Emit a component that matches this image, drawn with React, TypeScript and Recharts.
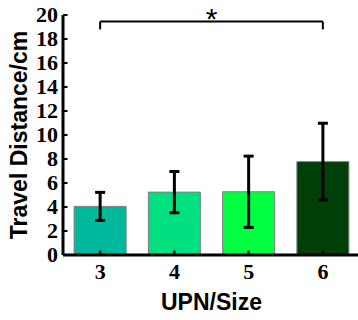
import React from 'react';
import { BarChart, Bar, Cell, XAxis, YAxis, ErrorBar, ReferenceLine } from 'recharts';

// Travel distance per UPN size: mean with error (±)
const sizes = ['3', '4', '5', '6'];
const means = [4.05, 5.24, 5.27, 7.78];
const errs = [1.17, 1.72, 2.97, 3.2];
const barColors = ['#00B89C', '#00E080', '#00FF40', '#004008'];
const yTicks = [0, 2, 4, 6, 8, 10, 12, 14, 16, 18, 20];

// Significance bracket between size 3 and size 6
const bracketFrom = '3';
const bracketTo = '6';
const bracketLevel = 19.45;
const bracketDrop = 18.8;
const bracketMark = '*';

const rows = sizes.map((size, i) => ({ size, mean: means[i], err: errs[i] }));

const SERIF = '"Liberation Serif", "Times New Roman", serif';
const SANS = '"Liberation Sans", Arial, sans-serif';

const YTick = (props: any) => {
  const { x, y, payload } = props;
  return (
    <g>
      <line x1={x} x2={x + 4.5} y1={y} y2={y} stroke="#000" strokeWidth={2} />
      <text x={x - 5} y={y} dy="0.34em" textAnchor="end" fontFamily={SERIF} fontWeight="bold" fontSize={22} fill="#000">
        {payload.value}
      </text>
    </g>
  );
};

const XTick = (props: any) => {
  const { x, y, payload } = props;
  return (
    <g>
      <line x1={x} x2={x} y1={y - 4.5} y2={y} stroke="#000" strokeWidth={2.5} />
      <text x={x} y={y + 24} textAnchor="middle" fontFamily={SERIF} fontWeight="bold" fontSize={22} fill="#000">
        {payload.value}
      </text>
    </g>
  );
};

const YTitle = () => (
  <text
    x={27}
    y={135}
    transform="rotate(-90 27 135)"
    textAnchor="middle"
    fontFamily={SANS}
    fontWeight="bold"
    fontSize={23}
    fill="#000"
  >
    Travel Distance/cm
  </text>
);

const XTitle = () => (
  <text x={211.5} y={310} textAnchor="middle" fontFamily={SANS} fontWeight="bold" fontSize={23} fill="#000">
    UPN/Size
  </text>
);

export default function App() {
  return (
    <div style={{ position: 'absolute', left: 0, top: 0 }}>
      <BarChart
        width={360}
        height={320}
        data={rows}
        margin={{ top: 15, right: 0, bottom: 0, left: 0 }}
        barCategoryGap="15%"
      >
        <XAxis
          dataKey="size"
          height={65}
          tickSize={0}
          tickMargin={0}
          tickLine={false}
          tick={<XTick />}
          axisLine={{ stroke: '#000', strokeWidth: 3 }}
          label={<XTitle />}
        />
        <YAxis
          width={63}
          domain={[0, 20]}
          ticks={yTicks}
          interval={0}
          tickSize={0}
          tickMargin={0}
          tickLine={false}
          tick={<YTick />}
          axisLine={{ stroke: '#000', strokeWidth: 3 }}
          label={<YTitle />}
        />
        <Bar dataKey="mean" stroke="#7F7F7F" strokeWidth={1} isAnimationActive={false}>
          {rows.map((r, i) => (
            <Cell key={r.size} fill={barColors[i]} />
          ))}
          <ErrorBar dataKey="err" direction="y" width={5} stroke="#000" strokeWidth={3} />
        </Bar>
        <ReferenceLine
          segment={[
            { x: bracketFrom, y: bracketLevel },
            { x: bracketTo, y: bracketLevel },
          ]}
          stroke="#000"
          strokeWidth={2}
          ifOverflow="visible"
          label={{ value: bracketMark, position: 'top', offset: -7, fontSize: 30, fontFamily: SANS, fill: '#000' }}
        />
        <ReferenceLine
          segment={[
            { x: bracketFrom, y: bracketLevel },
            { x: bracketFrom, y: bracketDrop },
          ]}
          stroke="#000"
          strokeWidth={2}
          ifOverflow="visible"
        />
        <ReferenceLine
          segment={[
            { x: bracketTo, y: bracketLevel },
            { x: bracketTo, y: bracketDrop },
          ]}
          stroke="#000"
          strokeWidth={2}
          ifOverflow="visible"
        />
      </BarChart>
    </div>
  );
}
